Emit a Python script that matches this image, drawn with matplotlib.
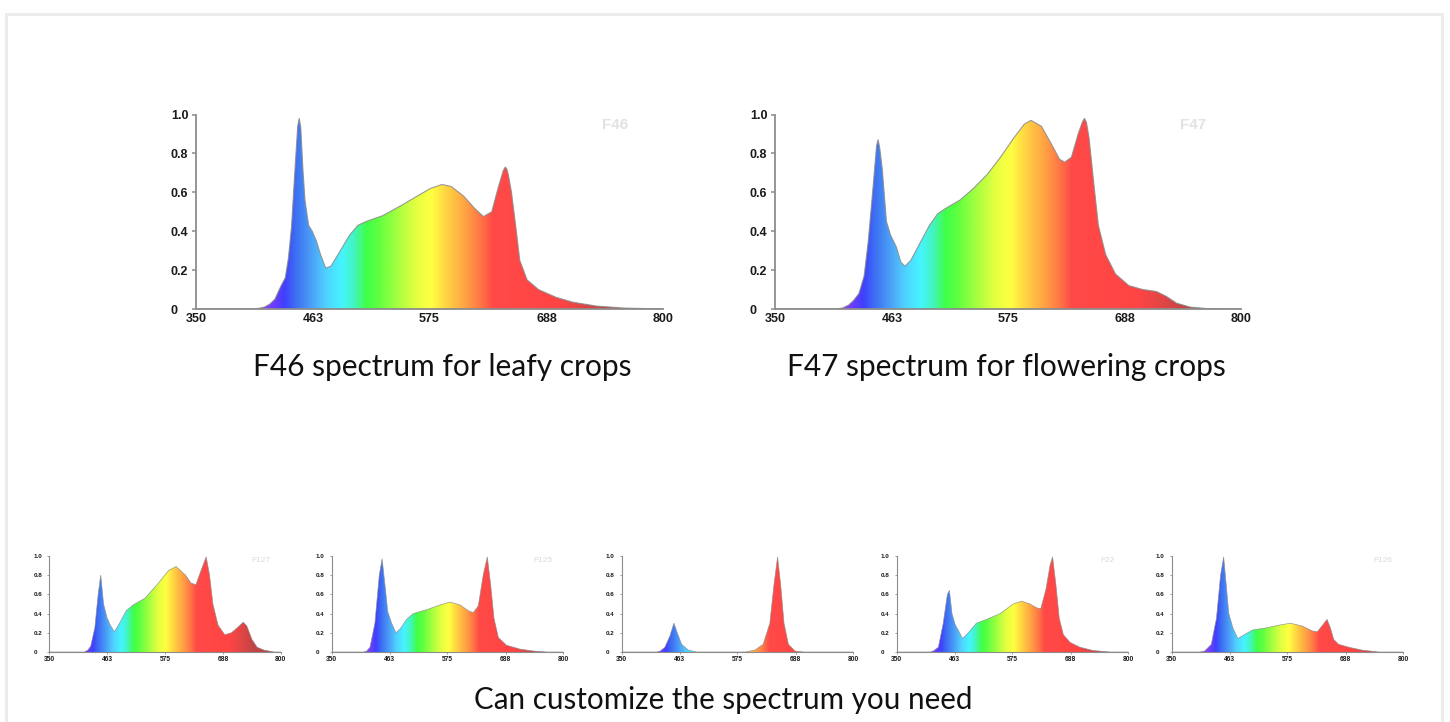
import numpy as np
import matplotlib
matplotlib.use("Agg")
import matplotlib.pyplot as plt
from matplotlib.colors import LinearSegmentedColormap
from matplotlib.patches import Polygon, Rectangle

# ---------------- data ----------------
x_ticks = [350, 463, 575, 688, 800]
y_ticks = [0, 0.2, 0.4, 0.6, 0.8, 1.0]
y_tick_labels = ["0", "0.2", "0.4", "0.6", "0.8", "1.0"]

f46_nm = [350, 400, 410, 416, 421, 426, 432, 436, 439, 442, 445.5, 448, 449.5, 451, 453, 455, 458.5,
          462, 466, 470, 475, 480, 488, 498, 506, 514, 530, 547, 563, 576, 587, 596, 608, 618, 627,
          635, 641, 646, 648, 649.5, 651, 654, 658, 662, 669, 680, 697, 713, 736, 762, 800]
f46_val = [0, 0, 0.003, 0.01, 0.025, 0.05, 0.12, 0.16, 0.26, 0.42, 0.73, 0.94, 0.98, 0.93, 0.72,
           0.56, 0.43, 0.40, 0.35, 0.28, 0.21, 0.22, 0.29, 0.38, 0.43, 0.45, 0.48, 0.53, 0.58, 0.62,
           0.64, 0.63, 0.58, 0.52, 0.475, 0.5, 0.62, 0.71, 0.73, 0.72, 0.69, 0.6, 0.43, 0.25, 0.15,
           0.10, 0.06, 0.035, 0.015, 0.005, 0]

f47_nm = [350, 408, 415, 421, 426, 431, 436, 440, 445, 448, 449.5, 451, 453.5, 457.5, 461.5, 467,
          471.5, 475.5, 481, 489, 499, 507, 515.5, 528.5, 541.5, 554.5, 567.5, 580.5, 590.5, 597, 607,
          616.5, 624.5, 629.5, 636, 642.5, 646.5, 648.5, 650.5, 653, 657.5, 662, 669, 678.5, 691.5,
          705, 718, 727.5, 737.5, 750.5, 767, 800]
f47_val = [0, 0, 0.005, 0.02, 0.045, 0.08, 0.17, 0.35, 0.65, 0.84, 0.87, 0.83, 0.72, 0.45, 0.38,
           0.32, 0.24, 0.22, 0.25, 0.33, 0.43, 0.49, 0.52, 0.56, 0.62, 0.69, 0.78, 0.88, 0.95, 0.97,
           0.94, 0.85, 0.77, 0.755, 0.78, 0.9, 0.96, 0.98, 0.96, 0.88, 0.65, 0.43, 0.28, 0.18, 0.12,
           0.10, 0.09, 0.065, 0.03, 0.01, 0.002, 0]

f127_nm = [350, 418, 425, 430.5, 438.5, 445, 450, 455.5, 462, 468.5, 476.5, 486.5, 499.5, 513, 536,
           562.5, 582, 596.5, 615, 625, 635, 645, 655, 661.5, 668, 678, 691, 704, 717, 727, 734, 744,
           754, 767, 787, 800]
f127_val = [0, 0, 0.02, 0.06, 0.25, 0.6, 0.8, 0.5, 0.36, 0.28, 0.21, 0.3, 0.43, 0.49, 0.56, 0.72, 0.85,
            0.89, 0.8, 0.72, 0.7, 0.85, 0.99, 0.8, 0.5, 0.28, 0.18, 0.2, 0.26, 0.31, 0.27, 0.13, 0.05,
            0.02, 0, 0]

f125_nm = [350, 412, 418, 424.5, 434, 442.5, 448, 453.5, 459, 466.5, 475, 483, 495.5, 508.5, 534.5,
           560.5, 580, 599.5, 615.5, 625, 635, 644.5, 652.5, 659, 665.5, 674, 690, 716, 742, 768, 800]
f125_val = [0, 0, 0.01, 0.05, 0.3, 0.8, 0.97, 0.7, 0.42, 0.3, 0.2, 0.24, 0.34, 0.4, 0.44, 0.49, 0.52,
            0.49, 0.43, 0.41, 0.48, 0.8, 0.99, 0.7, 0.35, 0.15, 0.07, 0.03, 0.01, 0, 0]

rb_nm = [350, 418, 425, 434, 444, 451.5, 458, 466.5, 479.5, 496, 590, 609, 625, 638, 646, 653, 659,
         665.5, 674, 687, 703, 800]
rb_val = [0, 0, 0.01, 0.05, 0.17, 0.3, 0.2, 0.08, 0.02, 0, 0, 0.02, 0.08, 0.3, 0.7, 0.99, 0.7, 0.3,
          0.08, 0.01, 0, 0]

f22_nm = [350, 415, 421, 431, 440.5, 448.5, 452.5, 457.5, 464, 470.5, 478, 489, 505, 525, 551, 576.5,
          593, 609, 622, 630, 640, 648, 653, 659.5, 666, 674, 687, 706, 732, 764.5, 800]
f22_val = [0, 0, 0.01, 0.05, 0.3, 0.6, 0.64, 0.4, 0.28, 0.22, 0.14, 0.2, 0.3, 0.34, 0.4, 0.5, 0.53,
           0.5, 0.46, 0.45, 0.65, 0.9, 0.99, 0.7, 0.35, 0.18, 0.1, 0.05, 0.015, 0, 0]

f126_nm = [350, 405, 414, 427, 437, 445, 451, 456, 461, 469, 478.5, 491, 507.5, 533, 559, 581, 604,
           623, 633, 643.5, 652, 658.5, 665, 674.5, 694, 719.5, 752, 800]
f126_val = [0, 0, 0.01, 0.08, 0.35, 0.8, 0.99, 0.7, 0.4, 0.25, 0.14, 0.18, 0.23, 0.25, 0.28, 0.3,
            0.27, 0.22, 0.21, 0.28, 0.34, 0.25, 0.13, 0.08, 0.05, 0.02, 0, 0]

big_names = ["F46", "F47"]
big_captions = ["F46 spectrum for leafy crops", "F47 spectrum for flowering crops"]
small_names = ["F127", "F125", "", "F22", "F126"]
bottom_caption = "Can customize the spectrum you need"

# spectral colour stops (wavelength, colour)
spec_nm = [350, 415, 425, 435, 445, 460, 475, 490, 502, 514, 525, 545, 562, 577, 592, 610, 625, 636,
           700, 722, 745, 800]
spec_col = ["#8a3cff", "#8c40ff", "#6a3cff", "#3f40ff", "#3c6cf2", "#4a9cf6", "#50d2ff", "#46f4ff",
            "#42f5c0", "#40ff48", "#5cff40", "#a8ff40", "#e4ff40", "#ffff42", "#ffd242", "#ffa244",
            "#ff7446", "#ff4a48", "#ff4444", "#e44646", "#c44545", "#b04242"]

# ---------------- figure ----------------
W, H = 1450, 722
fig = plt.figure(figsize=(W / 100, H / 100), dpi=100)
fig.patch.set_facecolor("white")

pos = np.array(spec_nm, dtype=float)
cmap = LinearSegmentedColormap.from_list(
    "spec", list(zip((pos - pos[0]) / (pos[-1] - pos[0]), spec_col)), N=512)
grad = np.linspace(0, 1, 900)[None, :]
tick_font = ["Liberation Sans", "DejaVu Sans"]


def px_axes(x0, x1, y0, y1):
    return fig.add_axes([x0 / W, (H - y0) / H, (x1 - x0) / W, (y0 - y1) / H])


def spectrum(ax, nm, val, name, big):
    ax.set_xlim(350, 800)
    ax.set_ylim(0, 1.0)
    im = ax.imshow(grad, extent=[350, 800, 0, 1.0], aspect="auto", cmap=cmap,
                   origin="lower", interpolation="bilinear", zorder=1)
    verts = np.column_stack([np.r_[nm, nm[::-1]], np.r_[val, np.zeros(len(val))]])
    poly = Polygon(verts, closed=True, transform=ax.transData, facecolor="none",
                   edgecolor="none")
    ax.add_patch(poly)
    im.set_clip_path(poly)
    ax.plot(nm, val, color="#8a8a8a", lw=0.8 if big else 0.5, zorder=3, alpha=0.85,
            solid_joinstyle="round")
    for s in ["top", "right"]:
        ax.spines[s].set_visible(False)
    for s in ["left", "bottom"]:
        ax.spines[s].set_color("#8c8c8c")
        ax.spines[s].set_linewidth(1.3 if big else 0.8)
        ax.spines[s].set_zorder(4)
    ax.set_xticks(x_ticks)
    ax.set_xticklabels([str(t) for t in x_ticks])
    ax.set_yticks(y_ticks)
    ax.set_yticklabels(y_tick_labels)
    if big:
        # labels left-aligned about 25 px left of the spine
        ax.tick_params(axis="y", length=3, width=1.1, color="#8c8c8c", pad=15,
                       labelsize=9, labelcolor="#1a1a1a")
        ax.tick_params(axis="x", length=0, pad=3, labelsize=9, labelcolor="#1a1a1a")
        ax.text(0.897, 0.946, name, transform=ax.transAxes, ha="center", va="center",
                fontsize=11, fontweight="bold", color="#e2e2e2", family=tick_font)
    else:
        ax.tick_params(axis="y", length=1.5, width=0.6, color="#8c8c8c", pad=10,
                       labelsize=4.5, labelcolor="#1a1a1a")
        ax.tick_params(axis="x", length=1.5, width=0.6, color="#8c8c8c", pad=1.5,
                       labelsize=4.8, labelcolor="#1a1a1a")
        if name:
            ax.text(0.912, 0.958, name, transform=ax.transAxes, ha="center", va="center",
                    fontsize=6, color="#dadada", family=tick_font)
    for lab in ax.get_xticklabels() + ax.get_yticklabels():
        lab.set_fontweight("bold")
        lab.set_family(tick_font)
    for lab in ax.get_yticklabels():
        lab.set_horizontalalignment("left")
    ax.set_facecolor("none")


big_data = [(f46_nm, f46_val), (f47_nm, f47_val)]
big_pos = [(196, 663, 309, 114.5), (775, 1241.4, 309, 114.5)]
for (nm, val), p, name in zip(big_data, big_pos, big_names):
    ax = px_axes(*p)
    spectrum(ax, np.array(nm, float), np.array(val, float), name, True)

small_data = [(f127_nm, f127_val), (f125_nm, f125_val), (rb_nm, rb_val), (f22_nm, f22_val),
              (f126_nm, f126_val)]
small_x0 = [49.3, 331.7, 621.7, 896.7, 1171.7]
for (nm, val), x0, name in zip(small_data, small_x0, small_names):
    ax = px_axes(x0, x0 + 231.5, 652, 556)
    spectrum(ax, np.array(nm, float), np.array(val, float), name, False)

cap_font = ["Lato", "DejaVu Sans"]
fig.text(442 / W, 1 - 367 / H, big_captions[0], ha="center", va="center", fontsize=21.5,
         family=cap_font, color="#111111")
fig.text(1006 / W, 1 - 367 / H, big_captions[1], ha="center", va="center", fontsize=21.5,
         family=cap_font, color="#111111")
fig.text(723 / W, 1 - 700 / H, bottom_caption, ha="center", va="center", fontsize=21.3,
         family=cap_font, color="#111111")

# light frame
fig.add_artist(Rectangle((6 / W, -0.05), (1442 - 6) / W, (H - 14) / H + 0.05,
                         transform=fig.transFigure, facecolor="none", edgecolor="#ececec",
                         lw=2.2, zorder=0))

fig.savefig("out.png", dpi=100, facecolor="white")
